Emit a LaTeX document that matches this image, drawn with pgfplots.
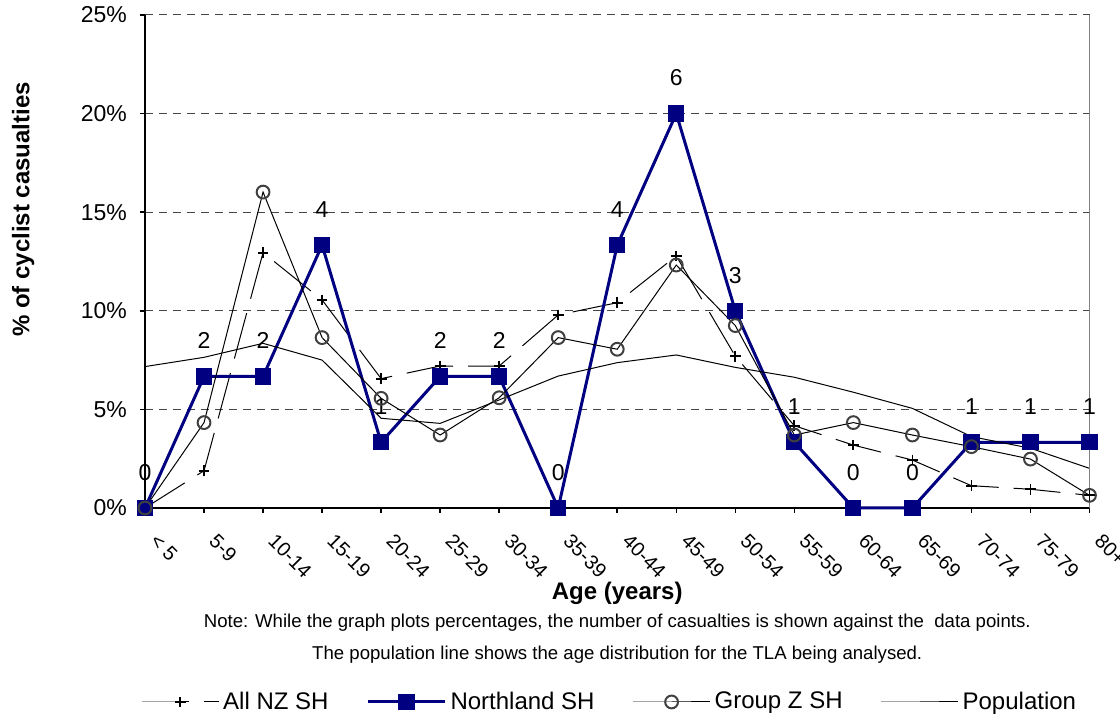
\documentclass[border=0pt]{standalone}
\usepackage{pgfplots}
\pgfplotsset{compat=1.18}
\usepackage{fontspec}
\setmainfont{Liberation Sans}
\definecolor{navy}{RGB}{0,0,128}
\definecolor{gridc}{RGB}{70,70,70}
\definecolor{circ}{RGB}{64,64,64}
\begin{document}
\begin{tikzpicture}
\begin{axis}[
  name=ax,
  width=472.25pt, height=246.5pt, scale only axis,
  xmin=0, xmax=16, ymin=0, ymax=25,
  axis x line*=bottom, axis y line*=left,
  axis line style={line width=0.75pt, -},
  xtick={0,...,16},
  xticklabels={{< 5},{5-9},{10-14},{15-19},{20-24},{25-29},{30-34},{35-39},{40-44},{45-49},{50-54},{55-59},{60-64},{65-69},{70-74},{75-79},{80+}},
  ytick={0,5,10,15,20,25},
  yticklabel={\pgfmathprintnumber{\tick}\%},
  /pgf/number format/assume math mode=true,
  tick align=outside,
  major tick length=2.5pt,
  tick style={line width=0.75pt, black},
  ymajorgrids,
  grid style={dash pattern=on 4pt off 3pt, line width=0.5pt, gridc},
  yticklabel style={font=\fontsize{11.5}{13}\selectfont, xshift=-3pt},
  xticklabel style={font=\fontsize{10}{12}\selectfont, xshift=2pt, yshift=-10pt, rotate=-45, anchor=west},
  xlabel={Age (years)},
  ylabel={\% of cyclist casualties},
  label style={font=\fontsize{12}{14}\bfseries\selectfont},
  xlabel style={at={(rel axis cs:0.5,-0.1724)}, anchor=center},
  ylabel style={at={(rel axis cs:-0.129,0.6055)}, anchor=center},
  clip=false,
  legend columns=4,
  legend style={at={(rel axis cs:0.493,-0.3935)}, anchor=center, draw=none, fill=none,
    font=\fontsize{12}{14}\selectfont,
    /tikz/every even column/.append style={column sep=17pt}},
  legend image code/.code={\draw[mark repeat=2,mark phase=2] plot coordinates {(0pt,0pt)(19.25pt,0pt)(38.5pt,0pt)};},
]
% All NZ SH
\addplot[black, line width=0.5pt, dash pattern=on 23.5pt off 7.5pt, mark=+, mark size=2.7pt,
  mark options={solid, line width=0.9pt}] coordinates {
  (0,0) (1,1.89) (2,12.95) (3,10.55) (4,6.56) (5,7.2) (6,7.2) (7,9.79) (8,10.41)
  (9,12.78) (10,7.7) (11,4.17) (12,3.19) (13,2.43) (14,1.13) (15,0.95) (16,0.64)};
\addlegendentry{All NZ SH}
% Northland SH
\addplot[navy, line width=1.5pt, mark=square*, mark size=3.3pt, mark options={solid},
  nodes near coords, point meta=explicit symbolic,
  nodes near coords style={font=\fontsize{11.5}{13}\selectfont, text=black, anchor=south, inner sep=0pt, yshift=13pt}]
  coordinates {
  (0,0)[0] (1,6.67)[2] (2,6.67)[2] (3,13.33)[4] (4,3.33)[1] (5,6.67)[2] (6,6.67)[2]
  (7,0)[0] (8,13.33)[4] (9,20)[6] (10,10)[3] (11,3.33)[1] (12,0)[0] (13,0)[0]
  (14,3.33)[1] (15,3.33)[1] (16,3.33)[1]};
\addlegendentry{Northland SH}
% Group Z SH
\addplot[black, line width=0.5pt, mark=o, mark size=3.2pt, mark options={circ, line width=1pt}] coordinates {
  (0,0) (1,4.33) (2,16.02) (3,8.64) (4,5.56) (5,3.70) (6,5.59) (7,8.64) (8,8.05)
  (9,12.32) (10,9.25) (11,3.70) (12,4.33) (13,3.70) (14,3.11) (15,2.48) (16,0.64)};
\addlegendentry{Group Z SH}
% Population
\addplot[black, line width=0.5pt] coordinates {
  (0,7.17) (1,7.64) (2,8.35) (3,7.5) (4,4.55) (5,4.29) (6,5.48) (7,6.69) (8,7.37)
  (9,7.76) (10,7.13) (11,6.63) (12,5.87) (13,5.05) (14,3.62) (15,3.03) (16,2.01)};
\addlegendentry{Population}
\draw[gray, line width=0.6pt] (rel axis cs:1,0) -- (rel axis cs:1,1);
\end{axis}
\node[font=\fontsize{9.3}{11}\selectfont] at ([yshift=-57.5pt]ax.south) {Note: While the graph plots percentages, the number of casualties is shown against the~ data points.};
\node[font=\fontsize{9.3}{11}\selectfont] at ([yshift=-73.5pt]ax.south) {The population line shows the age distribution for the TLA being analysed.};
\pgfresetboundingbox
\path[use as bounding box] ([xshift=-72.5pt,yshift=-103.5pt]ax.south west) rectangle ([xshift=15.25pt,yshift=7.5pt]ax.north east);
\end{tikzpicture}
\end{document}
